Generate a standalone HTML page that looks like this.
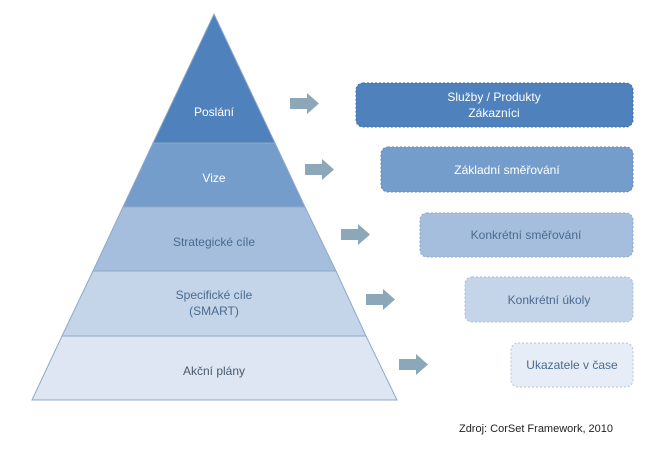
<!DOCTYPE html>
<html><head><meta charset="utf-8"><style>
body{margin:0;background:#fff;}
svg text{font-family:"Liberation Sans",sans-serif;font-size:12px;text-anchor:middle;}
</style></head><body>
<svg width="670" height="453" viewBox="0 0 670 453" xmlns="http://www.w3.org/2000/svg">
<g stroke="#8ea9c8" stroke-width="1">
<polygon points="214,14 275,143 153,143" fill="#4f81bd"/>
<polygon points="153,143 275,143 305,207 123,207" fill="#759dcc"/>
<polygon points="123,207 305,207 336,271 93,271" fill="#a5bedd"/>
<polygon points="93,271 336,271 366,336 62,336" fill="#c4d4e9"/>
<polygon points="62,336 366,336 397,400 32,400" fill="#dde6f2"/>
</g>
<text x="214" y="116" fill="#fff">Poslání</text>
<text x="214" y="182" fill="#fff">Vize</text>
<text x="214" y="246" fill="#4a6a8f">Strategické cíle</text>
<text x="214" y="299" fill="#4a6a8f">Specifické cíle</text>
<text x="214" y="315" fill="#4a6a8f">(SMART)</text>
<text x="214" y="375" fill="#4a5a70">Akční plány</text>
<g fill="#8ba7b8">
<polygon points="290,98 307,98 307,93 319,103.5 307,114 307,109 290,109"/>
<polygon points="305,164 322,164 322,159 334,169.5 322,180 322,175 305,175"/>
<polygon points="341,229 358,229 358,224 370,234.5 358,245 358,240 341,240"/>
<polygon points="366,294 383,294 383,289 395,299.5 383,310 383,305 366,305"/>
<polygon points="399,359 416,359 416,354 428,364.5 416,375 416,370 399,370"/>
</g>
<g stroke-dasharray="2,2" stroke-width="1">
<rect x="356" y="83" width="277" height="44" rx="7" fill="#4f81bd" stroke="#3f6da5"/>
<rect x="381" y="147" width="252" height="45" rx="7" fill="#759dcc" stroke="#5f86b8"/>
<rect x="420" y="213" width="213" height="44" rx="7" fill="#a5bedd" stroke="#8aa5c8"/>
<rect x="465" y="277" width="168" height="45" rx="7" fill="#c4d4e9" stroke="#a7bcd8"/>
<rect x="511" y="343" width="122" height="44" rx="7" fill="#e6edf6" stroke="#b5c5da"/>
</g>
<text x="494" y="101" fill="#fff">Služby / Produkty</text>
<text x="494" y="117" fill="#fff">Zákazníci</text>
<text x="507" y="174" fill="#fff">Základní  směřování</text>
<text x="526" y="239" fill="#4a6a8f">Konkrétní  směřování</text>
<text x="549" y="304" fill="#4a6a8f">Konkrétní  úkoly</text>
<text x="572" y="369" fill="#4a6a8f">Ukazatele  v čase</text>
<text x="536" y="432" fill="#222" style="font-size:11px">Zdroj: CorSet Framework, 2010</text>
</svg>
</body></html>
